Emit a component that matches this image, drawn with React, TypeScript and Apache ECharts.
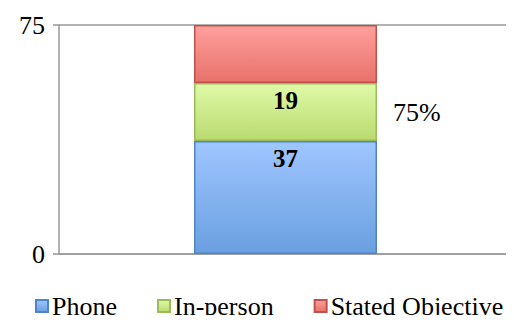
import { useEffect, useRef } from "react";
import * as echarts from "echarts";

const categories = ["Total"];
const phone = [37];
const inPerson = [19];
const statedObjective = [19];
const axisMax = 75;
const totalLabel = "75%";

const FONT = "'Liberation Serif', 'Times New Roman', serif";

const grad = (top: string, bottom: string) =>
  new echarts.graphic.LinearGradient(0, 0, 0, 1, [
    { offset: 0, color: top },
    { offset: 1, color: bottom },
  ]);

export default function App() {
  const ref = useRef<HTMLDivElement>(null);

  useEffect(() => {
    const chart = echarts.init(ref.current!, null, { renderer: "svg" });
    const valueLabel = {
      show: true,
      position: "insideTop" as const,
      distance: 5,
      fontFamily: FONT,
      fontWeight: "bold" as const,
      fontSize: 25,
      color: "#000",
    };
    chart.setOption({
      animation: false,
      grid: { left: 59, right: 2, top: 25, bottom: 69 },
      xAxis: {
        type: "category",
        data: categories,
        axisLine: { lineStyle: { color: "#999", width: 1.5 } },
        axisTick: { show: false },
        axisLabel: { show: false },
      },
      yAxis: {
        type: "value",
        min: 0,
        max: axisMax,
        interval: axisMax,
        axisLine: { show: true, lineStyle: { color: "#999", width: 1.5 } },
        axisTick: { show: true, length: 6, lineStyle: { color: "#999", width: 1.5 } },
        splitLine: { show: true, lineStyle: { color: "#999", width: 1.5 } },
        axisLabel: {
          fontFamily: FONT,
          fontSize: 26,
          color: "#000",
          margin: 14,
        },
      },
      legend: {
        bottom: -1,
        left: 33,
        right: -80,
        padding: [5, 2, 5, 2],
        icon: "rect",
        itemWidth: 12,
        itemHeight: 12,
        itemGap: 40,
        textStyle: {
          fontFamily: FONT,
          fontSize: 26,
          color: "#000",
          padding: [0, 0, 6, -1],
        },
        data: ["Phone", "In-person", "Stated Objective"],
      },
      series: [
        {
          name: "Phone",
          type: "bar",
          stack: "t",
          barWidth: 183,
          data: phone,
          itemStyle: {
            color: grad("#9fc6ff", "#6a9fe0"),
            borderColor: "#4f85c8",
            borderWidth: 1.5,
          },
          label: valueLabel,
        },
        {
          name: "In-person",
          type: "bar",
          stack: "t",
          barWidth: 183,
          data: inPerson,
          itemStyle: {
            color: grad("#e0f9a8", "#b9db70"),
            borderColor: "#9bbb59",
            borderWidth: 1.5,
          },
          label: valueLabel,
        },
        {
          name: "Stated Objective",
          type: "bar",
          stack: "t",
          barWidth: 183,
          data: statedObjective,
          itemStyle: {
            color: grad("#ffa09c", "#e8716b"),
            borderColor: "#c0504d",
            borderWidth: 1.5,
          },
          label: {
            show: true,
            position: "right",
            distance: 16,
            offset: [0, 58],
            formatter: () => totalLabel,
            fontFamily: FONT,
            fontSize: 26,
            color: "#000",
          },
        },
      ],
    });
    return () => chart.dispose();
  }, []);

  return <div ref={ref} style={{ width: 514, height: 323, margin: -8 }} />;
}
